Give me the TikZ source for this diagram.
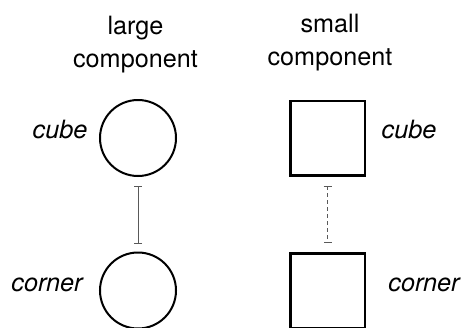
\documentclass[tikz,border=0pt]{standalone}
\usepackage{fontspec}
\setmainfont{TeX Gyre Heros}
\usetikzlibrary{arrows.meta}

\tikzset{
  bigpart/.style={circle, draw, line width=2pt, minimum size=76pt, inner sep=0pt},
  smallpart/.style={rectangle, draw, line width=2.5pt, minimum size=74.5pt, inner sep=0pt},
  head/.style={font=\fontsize{25.2}{33}\selectfont, align=center, inner sep=0pt, anchor=north},
  tag/.style={font=\fontsize{25.2}{29}\selectfont\itshape, inner sep=0pt, anchor=base},
  link/.style={draw=black!65, line width=1pt, {Bar[width=8pt]}-{Bar[width=8pt]}}
}

\begin{document}
\begin{tikzpicture}[x=1pt,y=-1pt]
  \useasboundingbox (0,0) rectangle (461,327);

  % headings
  \node[head] (lhead) at (135.5,16) {large\\component};
  \node[head] (shead) at (330,13.5) {small\\component};

  % components
  \node[bigpart] (lcube) at (138,138) {};
  \node[bigpart] (lcorner) at (138,290.5) {};
  \node[smallpart] (scube) at (327.5,138) {};
  \node[smallpart] (scorner) at (327.5,290.5) {};

  % labels
  \node[tag] (lcubetag) at (60,138.5) {cube};
  \node[tag] (lcornertag) at (47,291) {corner};
  \node[tag] (scubetag) at (409,138.5) {cube};
  \node[tag] (scornertag) at (424,291) {corner};

  % links
  \draw[link, shorten <=8.5pt, shorten >=7.5pt] (lcube) -- (lcorner);
  \draw[link, dash pattern=on 4pt off 3pt, shorten <=9pt, shorten >=9.5pt] (scube) -- (scorner);
\end{tikzpicture}
\end{document}
